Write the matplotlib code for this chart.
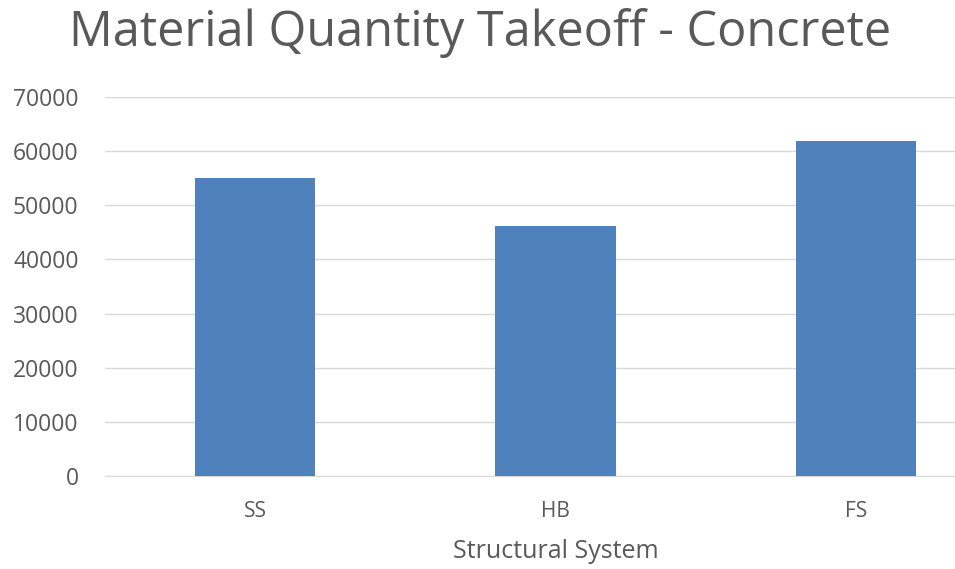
import matplotlib
matplotlib.use("Agg")
import matplotlib.pyplot as plt

# Values
systems = ["SS", "HB", "FS"]
concrete = [55000, 46200, 61900]
yticks = [0, 10000, 20000, 30000, 40000, 50000, 60000, 70000]

plt.rcParams['font.family'] = ['Open Sans', 'DejaVu Sans']

fig = plt.figure(figsize=(9.55, 5.69), dpi=100)
# plot area runs past the right edge of the image, as in the reference
ax = fig.add_axes([105 / 955, 93 / 569, 901 / 955, 379 / 569])

x = range(len(systems))
ax.bar(x, concrete, width=0.4, color="#4f81bd", zorder=3)

ax.set_xlim(-0.5, 2.5)
ax.set_ylim(0, 70000)
ax.set_yticks(yticks)
ax.set_yticklabels([str(v) for v in yticks])
ax.set_xticks(list(x))
ax.set_xticklabels(systems)

ax.grid(axis="y", color="#d9d9d9", linewidth=1, zorder=0)
for s in ["top", "right", "left"]:
    ax.spines[s].set_visible(False)
ax.spines["bottom"].set_color("#d9d9d9")
ax.tick_params(axis="both", length=0, colors="#595959")
ax.tick_params(axis="y", pad=19, labelsize=16.5)
ax.tick_params(axis="x", pad=18, labelsize=15)

ax.set_xlabel("Structural System", fontsize=18, color="#595959", labelpad=12)
fig.text(480 / 955, 1 - 33 / 569, "Material Quantity Takeoff - Concrete",
         ha="center", va="center", fontsize=35, color="#595959")

fig.savefig("out.png", dpi=100)
